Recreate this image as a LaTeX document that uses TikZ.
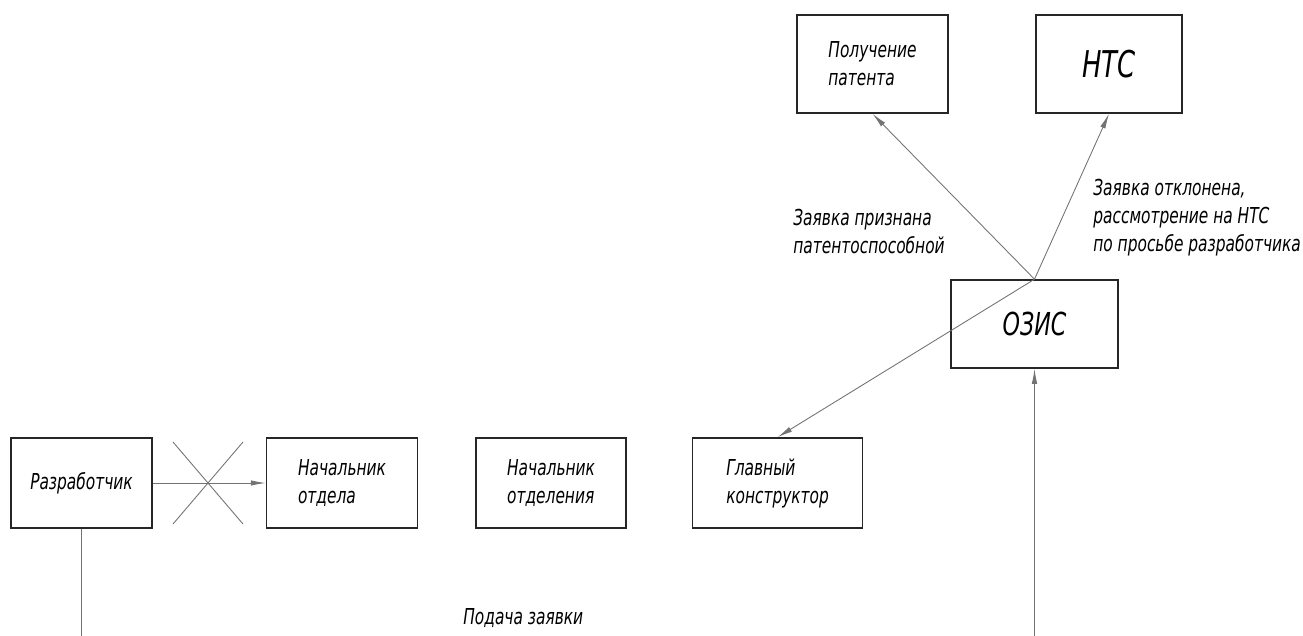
\documentclass[tikz,border=0pt]{standalone}
\usepackage{fontspec}
\setmainfont{DejaVu Sans Condensed}[FakeStretch=0.78]
\usetikzlibrary{
  calc,
  positioning,
  arrows.meta}

\tikzset{
  block/.style={
    draw=black!85,
    line width=0.9pt,
    minimum height=1.8cm,
    align=left,
    inner sep=0pt,
    font=\itshape\fontsize{12.5}{16}\selectfont
  },
  link/.style={
    draw=black!55,
    line width=0.5pt
  },
  arr/.style={
    link,
    -{Latex[length=3mm,width=1.1mm]}
  },
  note/.style={
    anchor=north west,
    align=left,
    inner sep=0pt,
    font=\itshape\fontsize{12.5}{16}\selectfont
  }
}

\begin{document}
\begin{tikzpicture}[x=0.02cm,y=-0.02cm]%
  \useasboundingbox (0,0) rectangle (1303,636);

  % Bottom row
  \node[block, minimum width=2.82cm] (dev) at (81.5,483) {Разработчик};

  \node[
    block,
    minimum width=3.02cm,
    right=2.26cm of dev
  ] (dept) {Начальник\\отдела};

  \node[
    block,
    minimum width=3.0cm,
    right=1.14cm of dept
  ] (div) {Начальник\\отделения};

  \node[
    block,
    minimum width=3.4cm,
    right=1.3cm of div
  ] (chief) {Главный\\конструктор};

  % Patent office
  \node[
    block,
    minimum width=3.34cm,
    minimum height=1.76cm,
    font=\itshape\fontsize{18}{20}\selectfont
  ] (ozis) at (1034.5,324) {ОЗИС};

  \node[
    block,
    minimum width=3.02cm,
    minimum height=1.96cm
  ] (patent) at (872.5,64) {Получение\\патента};

  \node[
    block,
    minimum width=2.92cm,
    minimum height=1.96cm,
    font=\itshape\fontsize{21}{22}\selectfont
  ] (nts) at (1109,64) {НТС};

  % Connectors
  \draw[arr] (dev.east) -- (dept.west);

  \coordinate (cross) at (208,483);
  \draw[link]
    ($(cross)+(-35,-41)$) -- ($(cross)+(35,41)$)
    ($(cross)+(-35,41)$) -- ($(cross)+(35,-41)$);

  \coordinate (devend) at (dev.south |- 0,640);
  \coordinate (ozisend) at (ozis.south |- 0,640);
  \draw[link] (dev.south) -- (devend);
  \draw[arr] (ozisend) -- (ozis.south);

  \draw[arr] (ozis.north) -- (patent.south);
  \draw[arr] (ozis.north) -- (nts.south);
  \draw[arr] (ozis.north) -- (chief.north);

  % Labels
  \node[note] (lbpatent) at (793,209) {Заявка признана\\патентоспособной};
  \node[note] (lbnts) at (1093,179) {Заявка отклонена,\\рассмотрение на НТС\\по просьбе разработчика};
  \node[note] (lbsubmit) at (463,608) {Подача заявки};

\end{tikzpicture}
\end{document}
